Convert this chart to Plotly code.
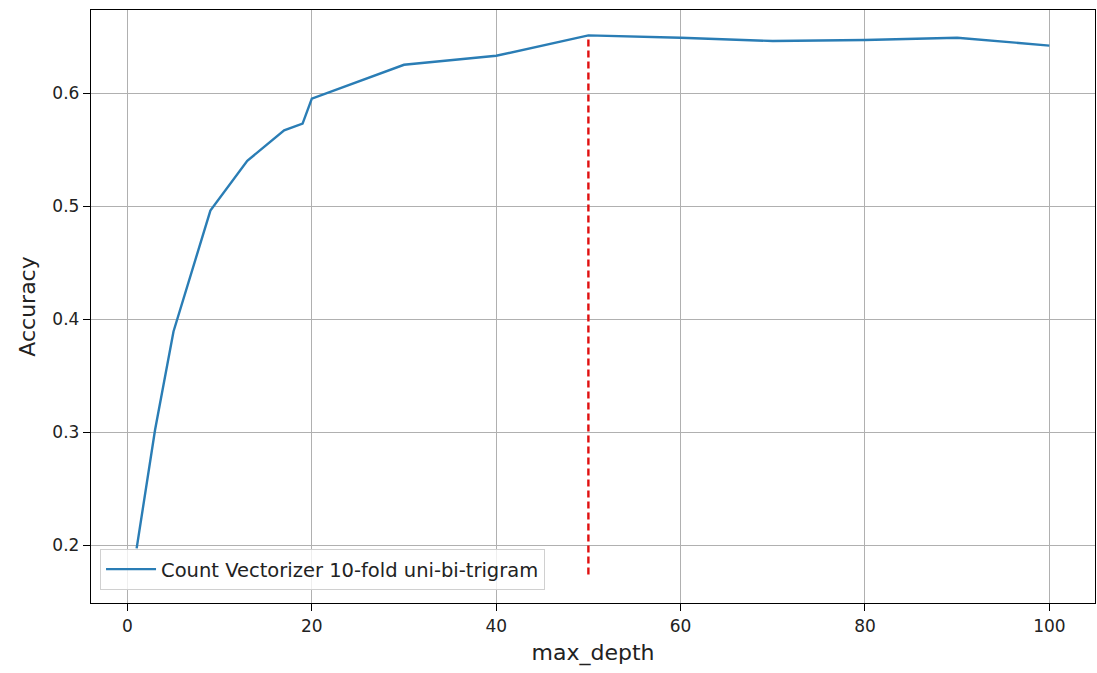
import plotly.graph_objects as go

max_depth = [1, 3, 5, 9, 13, 17, 19, 20, 30, 40, 50, 60, 70, 80, 90, 100]
accuracy = [0.197, 0.302, 0.389, 0.496, 0.540, 0.567, 0.573, 0.595, 0.625, 0.633,
            0.651, 0.649, 0.646, 0.647, 0.649, 0.642]
best_depth = 50
vline_min = 0.174
series_name = "Count Vectorizer 10-fold uni-bi-trigram"

fig = go.Figure()
fig.add_trace(go.Scatter(
    x=max_depth, y=accuracy, mode="lines", name=series_name,
    line=dict(color="#2a7db5", width=2.4),
))
fig.add_trace(go.Scatter(
    x=[best_depth, best_depth], y=[vline_min, max(accuracy)], mode="lines",
    showlegend=False, line=dict(color="#e01010", width=2.4, dash="7px,4px"),
))

axis_common = dict(
    showline=True, linecolor="black", linewidth=1.4, mirror=True,
    showgrid=True, gridcolor="#b0b0b0", gridwidth=1.2,
    ticks="outside", ticklen=7, tickcolor="black", tickwidth=1.2,
    zeroline=False,
    tickfont=dict(family="DejaVu Sans", size=17, color="#222222"),
)

fig.update_layout(
    width=1097, height=673,
    margin=dict(l=91, r=2, t=10, b=70),
    paper_bgcolor="white", plot_bgcolor="white",
    xaxis=dict(axis_common, range=[-3.95, 104.95], tickvals=[0, 20, 40, 60, 80, 100],
               title=dict(text="max_depth", standoff=10,
                          font=dict(family="DejaVu Sans", size=22, color="#222222"))),
    yaxis=dict(axis_common, range=[0.1487, 0.6735], tickvals=[0.2, 0.3, 0.4, 0.5, 0.6],
               tickformat=".1f",
               title=dict(text="Accuracy", standoff=10,
                          font=dict(family="DejaVu Sans", size=22, color="#222222"))),
    legend=dict(x=0.009, y=0.022, xanchor="left", yanchor="bottom",
                bgcolor="rgba(255,255,255,0.8)", bordercolor="#d0d0d0", borderwidth=1,
                itemwidth=50,
                font=dict(family="DejaVu Sans", size=19.5, color="#222222")),
    showlegend=True,
)

fig.write_html("out.html")
